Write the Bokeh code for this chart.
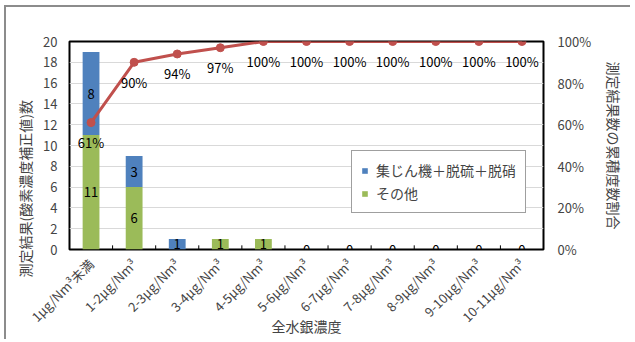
import math
from bokeh.plotting import figure
from bokeh.models import (FactorRange, Range1d, LinearAxis, NumeralTickFormatter, Legend,
                          LegendItem, Title, ColumnDataSource, FixedTicker)
from bokeh.core.properties import value
from bokeh.embed import file_html
from bokeh.resources import INLINE

categories = ["1μg/Nm³未満", "1-2μg/Nm³", "2-3μg/Nm³", "3-4μg/Nm³", "4-5μg/Nm³", "5-6μg/Nm³",
              "6-7μg/Nm³", "7-8μg/Nm³", "8-9μg/Nm³", "9-10μg/Nm³", "10-11μg/Nm³"]
dust_desulf_denox = [8, 3, 1, 0, 0, 0, 0, 0, 0, 0, 0]
others = [11, 6, 0, 1, 1, 0, 0, 0, 0, 0, 0]
cumulative_pct = [61, 90, 94, 97, 100, 100, 100, 100, 100, 100, 100]
left_ticks = [0, 2, 4, 6, 8, 10, 12, 14, 16, 18, 20]
right_ticks = [0, 0.2, 0.4, 0.6, 0.8, 1.0]
series_names = ["集じん機＋脱硫＋脱硝", "その他"]
left_title = "測定結果(酸素濃度補正値)数"
right_title = "測定結果数の累積度数割合"
x_title = "全水銀濃度"

BLUE = "#4F81BD"
GREEN = "#9BBB59"
RED = "#C0504D"
FONT = "Noto Sans CJK JP"

src = ColumnDataSource(dict(cat=categories, dust=dust_desulf_denox, others=others,
                            pct=[v / 100 for v in cumulative_pct],
                            pct_label=[f"{v}%" for v in cumulative_pct]))

p = figure(x_range=FactorRange(factors=categories, range_padding=0),
           y_range=Range1d(0, 20), output_backend="svg", toolbar_location=None,
           frame_width=474, frame_height=208,
           min_border_left=63, min_border_top=34, min_border_right=87, min_border_bottom=90)
p.extra_y_ranges = {"pct": Range1d(0, 1)}
p.styles = {"margin-left": "4px", "margin-top": "5px",
            "border-left": "2px solid #8C8C8C", "border-top": "2px solid #8C8C8C"}

renderers = p.vbar_stack(["others", "dust"], x="cat", width=0.39, color=[GREEN, BLUE],
                         line_color=None, source=src)

# segment labels
lx, ly, lt = [], [], []
for c, d, o in zip(categories, dust_desulf_denox, others):
    if o:
        lx.append(c); ly.append(o / 2); lt.append(str(o))
    if d:
        lx.append(c); ly.append(o + d / 2); lt.append(str(d))
    if d == 0 and o == 0:
        lx.append(c); ly.append(0); lt.append("0")
p.text(x=lx, y=ly, text=lt, text_align="center", text_baseline="middle",
       text_font=value(FONT), text_font_size="13px", text_color="black")

# boundary ticks
bx = list(range(1, len(categories)))
p.segment(x0=bx, y0=[0] * len(bx), x1=bx, y1=[0.4] * len(bx), line_color="black", line_width=1)

p.line(x="cat", y="pct", source=src, y_range_name="pct", line_color=RED, line_width=3)
p.scatter(x="cat", y="pct", source=src, y_range_name="pct", size=8, fill_color=RED, line_color=RED)
p.text(x="cat", y="pct", text="pct_label", source=src, y_range_name="pct", y_offset=20,
       text_align="center", text_baseline="middle", text_font=value(FONT),
       text_font_size="13px", text_color="black")

p.outline_line_color = "black"
p.outline_line_width = 2
p.xgrid.grid_line_color = None
p.ygrid.ticker = FixedTicker(ticks=left_ticks)
p.ygrid.grid_line_color = "#D9D9D9"

ya = p.yaxis[0]
ya.ticker = FixedTicker(ticks=left_ticks)
ya.major_tick_out = 0
ya.major_tick_in = 0
ya.minor_tick_out = 0
ya.axis_line_color = None
ya.major_label_standoff = 12
ya.major_label_text_font = FONT
ya.major_label_text_font_size = "13px"

xa = p.xaxis[0]
xa.major_tick_out = 0
xa.major_tick_in = 0
xa.axis_line_color = None
xa.major_label_orientation = math.pi / 4
xa.major_label_standoff = 12
xa.major_label_text_font = FONT
xa.major_label_text_font_size = "13px"
xa.axis_label = x_title
xa.axis_label_standoff = -20
xa.axis_label_text_font = FONT
xa.axis_label_text_font_size = "14px"
xa.axis_label_text_font_style = "normal"

ra = LinearAxis(y_range_name="pct", ticker=FixedTicker(ticks=right_ticks),
                formatter=NumeralTickFormatter(format="0%"), axis_label=right_title)
ra.major_tick_out = 0
ra.major_tick_in = 0
ra.axis_line_color = None
ra.major_label_standoff = 14
ra.major_label_text_font = FONT
ra.major_label_text_font_size = "13px"
ra.axis_label_text_font = FONT
ra.axis_label_text_font_size = "14px"
ra.axis_label_text_font_style = "normal"
ra.axis_label_standoff = 10
p.add_layout(ra, "right")

p.add_layout(Title(text=left_title, align="left", offset=-28, standoff=12,
                   text_font=FONT, text_font_size="14px", text_font_style="normal"), "left")

legend = Legend(items=[LegendItem(label=series_names[0], renderers=[renderers[1]]),
                       LegendItem(label=series_names[1], renderers=[renderers[0]])],
                location=(282, 36), padding=9, spacing=3, glyph_width=7, glyph_height=7,
                label_standoff=8, label_height=17, margin=0,
                label_text_font=FONT, label_text_font_size="14px",
                border_line_color="#404040", border_line_width=1,
                background_fill_color="white", background_fill_alpha=1)
p.add_layout(legend)

open("out.html", "w").write(file_html(p, INLINE))
